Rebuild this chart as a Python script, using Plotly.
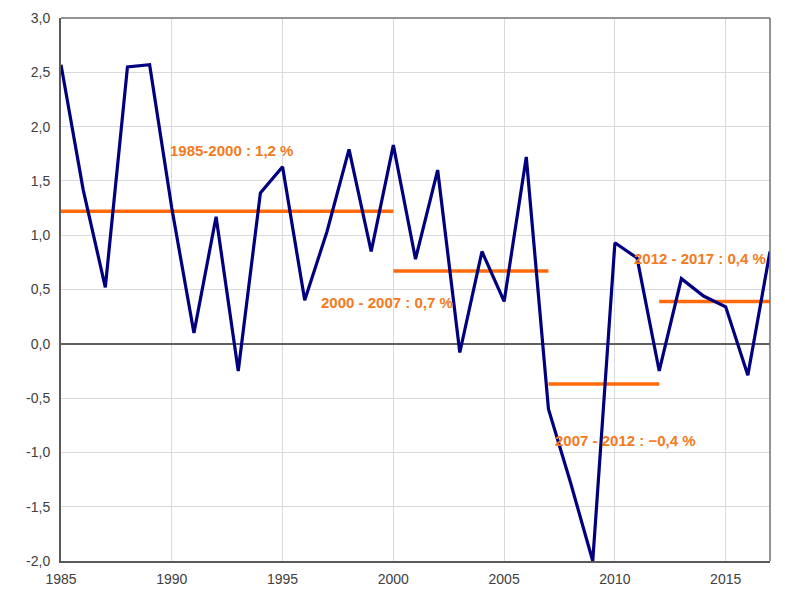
import plotly.graph_objects as go

years = list(range(1985, 2018))
values = [2.57, 1.42, 0.52, 2.55, 2.57, 1.25, 0.10, 1.17, -0.25, 1.39, 1.63,
          0.40, 1.03, 1.79, 0.85, 1.83, 0.78, 1.60, -0.08, 0.85, 0.39,
          1.72, -0.60, -1.28, -2.00, 0.93, 0.79, -0.25, 0.60, 0.44, 0.34,
          -0.29, 0.85]

period_starts = [1985, 2000, 2007, 2012]
period_ends = [2000, 2007, 2012, 2017]
period_means = [1.22, 0.67, -0.37, 0.39]
period_labels = ["1985-2000 : 1,2 %", "2000 - 2007 : 0,7 %",
                 "2007 - 2012 : \u22120,4 %", "2012 - 2017 : 0,4 %"]
label_x = [1992.7, 1999.7, 2010.5, 2013.85]
label_y = [1.78, 0.38, -0.89, 0.79]

y_ticks = [3.0, 2.5, 2.0, 1.5, 1.0, 0.5, 0.0, -0.5, -1.0, -1.5, -2.0]
y_tick_text = ["3,0", "2,5", "2,0", "1,5", "1,0", "0,5", "0,0", "-0,5", "-1,0", "-1,5", "-2,0"]
x_ticks = [1985, 1990, 1995, 2000, 2005, 2010, 2015]

orange = "#FF6A0D"
text_orange = "#F47A20"
navy = "#00007F"
font_family = "Liberation Sans, Arial"

fig = go.Figure()

for s, e, m in zip(period_starts, period_ends, period_means):
    fig.add_trace(go.Scatter(x=[s, e], y=[m, m], mode="lines",
                             line=dict(color=orange, width=3.5), showlegend=False,
                             hoverinfo="skip"))

fig.add_trace(go.Scatter(x=years, y=values, mode="lines",
                         line=dict(color=navy, width=3.2), showlegend=False))

for lx, ly, t in zip(label_x, label_y, period_labels):
    fig.add_annotation(x=lx, y=ly, text="<b>" + t + "</b>", showarrow=False,
                       font=dict(family=font_family, size=15, color=text_orange))

fig.update_layout(
    width=785, height=589,
    margin=dict(l=53, r=23, t=10, b=36),
    paper_bgcolor="white", plot_bgcolor="white",
    xaxis=dict(range=[1985, 2017], tickvals=x_ticks, showgrid=True, automargin=False,
               gridcolor="#D9D9DE", gridwidth=1, zeroline=False,
               showline=True, linecolor="#5A5A5A", linewidth=2, mirror=False,
               ticks="outside", ticklen=4, tickcolor="white",
               tickfont=dict(family=font_family, size=14, color="#404040")),
    yaxis=dict(range=[-2.0, 3.0], tickvals=y_ticks, ticktext=y_tick_text, showgrid=True,
               automargin=False,
               gridcolor="#D9D9DE", gridwidth=1, zeroline=True, zerolinecolor="#606060",
               zerolinewidth=1.5, showline=True, linecolor="#5A5A5A", linewidth=2,
               ticks="outside", ticklen=6, tickcolor="white",
               tickfont=dict(family=font_family, size=14, color="#404040")),
    shapes=[
        dict(type="line", xref="paper", yref="paper", x0=0, x1=1, y0=1, y1=1,
             line=dict(color="#707070", width=1.5)),
        dict(type="line", xref="paper", yref="paper", x0=1, x1=1, y0=0, y1=1,
             line=dict(color="#707070", width=1.5)),
    ],
)

fig.write_html("out.html")
